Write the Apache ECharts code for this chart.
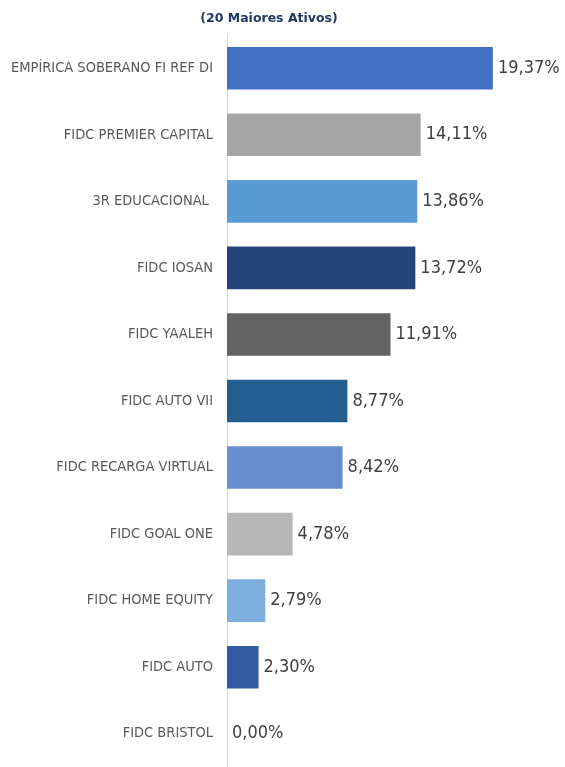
<!DOCTYPE html>
<html><head><meta charset="utf-8">
<script src="https://cdn.jsdelivr.net/npm/echarts@6/dist/echarts.min.js"></script>
<style>html,body{margin:0;padding:0;background:#fff}#c{width:565px;height:767px}</style>
</head><body><div id="c"></div>
<script>
const categories = ["EMPÍRICA SOBERANO FI REF DI","FIDC PREMIER CAPITAL","3R EDUCACIONAL ","FIDC IOSAN","FIDC YAALEH","FIDC AUTO VII","FIDC RECARGA VIRTUAL","FIDC GOAL ONE","FIDC HOME EQUITY","FIDC AUTO","FIDC BRISTOL"];
const values = [19.37,14.11,13.86,13.72,11.91,8.77,8.42,4.78,2.79,2.30,0.00];
const colors = ["#4472C4","#A5A5A5","#5B9BD5","#264478","#636363","#255E91","#698ED0","#B7B7B7","#7CAFDD","#335AA1","#9E480E"];
const title = "(20 Maiores Ativos)";

const chart = echarts.init(document.getElementById('c'));
chart.setOption({
  animation:false,
  title:{text:title,left:264,top:7,textAlign:'center',textStyle:{fontFamily:'DejaVu Sans',fontSize:12.5,fontWeight:'bold',color:'#1F3864'}},
  grid:{left:227,top:35,width:302,height:737},
  xAxis:{type:'value',min:0,max:22,show:false},
  yAxis:{type:'category',inverse:true,data:categories,
    axisLine:{show:true,lineStyle:{color:'#D9D9D9',width:1}},
    axisTick:{show:false},
    axisLabel:{margin:14,color:'#595959',fontFamily:'DejaVu Sans Condensed',fontSize:14.5}},
  series:[{type:'bar',barCategoryGap:'36%',
    data:values.map((v,i)=>({value:v,itemStyle:{color:colors[i]}})),
    label:{show:true,position:'right',distance:5,color:'#404040',fontFamily:'DejaVu Sans Condensed',fontSize:18,
      formatter:p=>p.value.toFixed(2).replace('.',',')+'%'}}]
});
</script></body></html>
